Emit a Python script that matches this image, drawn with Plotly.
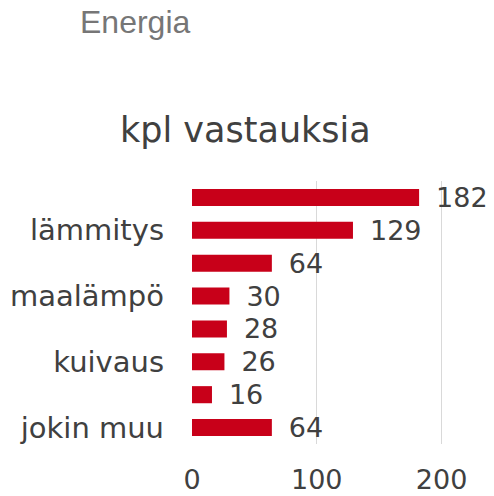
import plotly.graph_objects as go

# Categories listed top to bottom; unlabeled rows have hidden category names
labels = ["", "lämmitys", "", "maalämpö", "", "kuivaus", "", "jokin muu"]
values = [182, 129, 64, 30, 28, 26, 16, 64]
x_ticks = [0, 100, 200]

positions = list(range(len(labels)))

W, H = 494, 496
L, T, B = 192, 181, 52
R = 14.5
PW, PH = W - L - R, H - T - B

fig = go.Figure(go.Bar(
    x=values,
    y=positions,
    orientation="h",
    width=0.52,
    marker=dict(color="#C80019", line=dict(width=0)),
    text=values,
    texttemplate="\u00a0\u2009%{x}",
    textposition="outside",
    constraintext="none",
    cliponaxis=False,
    textfont=dict(family="DejaVu Sans", size=27, color="#404040"),
))

fig.update_layout(
    width=W, height=H,
    margin=dict(l=L, r=R, t=T, b=B, autoexpand=False),
    paper_bgcolor="white", plot_bgcolor="white",
    showlegend=False,
    font=dict(family="DejaVu Sans", color="#404040"),
    xaxis=dict(
        range=[0, 230],
        tickvals=x_ticks,
        ticktext=[str(v) for v in x_ticks],
        showgrid=True, gridcolor="#D9D9D9", gridwidth=1,
        zeroline=False, showline=False, automargin=False,
        tickfont=dict(size=27, color="#404040"),
        ticks="", ticklabelstandoff=17,
    ),
    yaxis=dict(
        range=[7.5, -0.5],
        tickvals=positions,
        ticktext=labels,
        showgrid=False, zeroline=False, showline=False, automargin=False,
        tickfont=dict(size=29, color="#404040"),
        ticks="", ticklabelstandoff=27,
    ),
)
fig.add_annotation(text="Energia", xref="paper", yref="paper",
                   x=(78 - L) / PW, y=(H - B - 22) / PH,
                   xanchor="left", yanchor="middle", showarrow=False,
                   font=dict(family="Liberation Sans", size=32, color="#767676"))
fig.add_annotation(text="kpl vastauksia", xref="paper", yref="paper",
                   x=(246 - L) / PW, y=(H - B - 130) / PH,
                   xanchor="center", yanchor="middle", showarrow=False,
                   font=dict(family="DejaVu Sans", size=35, color="#404040"))

fig.write_html(
    "out.html",
    config={"displayModeBar": False},
    post_script="document.body.style.margin='0';document.body.style.overflow='hidden';",
)
